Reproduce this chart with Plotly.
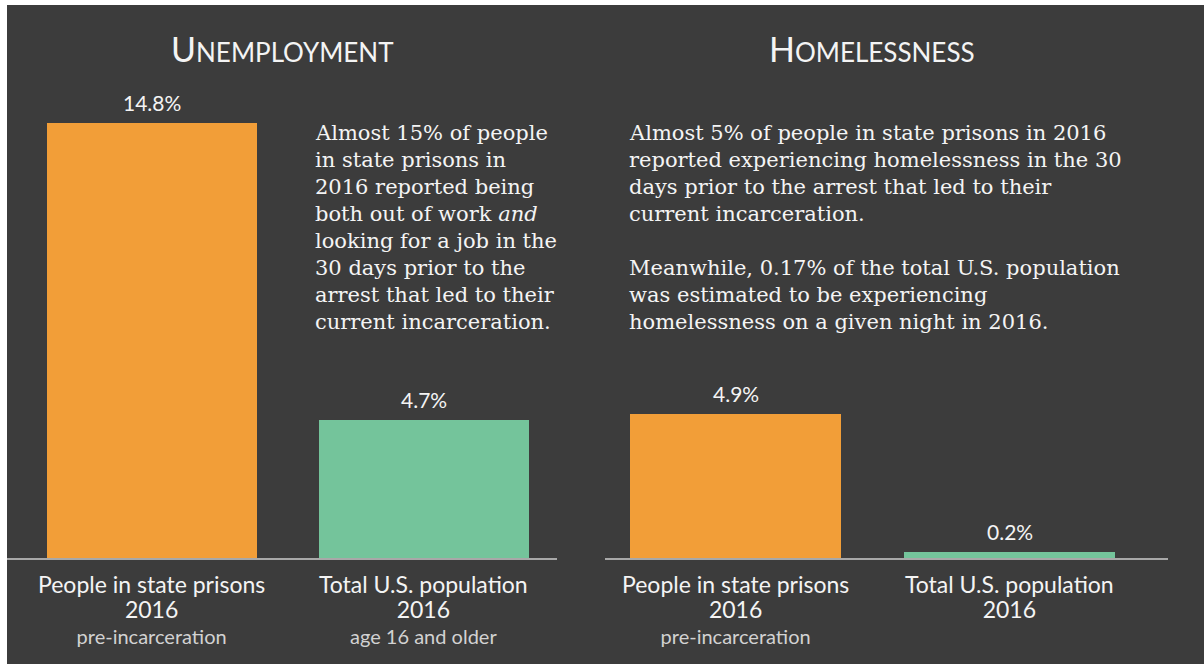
import plotly.graph_objects as go

W, H = 1204, 664

# ---- data -------------------------------------------------------------
panel_titles = ["Unemployment", "Homelessness"]
unemployment_pct = [14.8, 4.7]
homelessness_pct = [4.9, 0.2]
group_names = ["People in state prisons", "Total U.S. population"]
group_years = ["2016", "2016"]
unemployment_notes = ["pre-incarceration", "age 16 and older"]
homelessness_notes = ["pre-incarceration", ""]

unemployment_text = [
    "Almost 15% of people",
    "in state prisons in",
    "2016 reported being",
    "both out of work <i>and</i>",
    "looking for a job in the",
    "30 days prior to the",
    "arrest that led to their",
    "current incarceration.",
]
homelessness_text = [
    "Almost 5% of people in state prisons in 2016",
    "reported experiencing homelessness in the 30",
    "days prior to the arrest that led to their",
    "current incarceration.",
    "",
    "Meanwhile, 0.17% of the total U.S. population",
    "was estimated to be experiencing",
    "homelessness on a given night in 2016.",
]

# ---- styling ----------------------------------------------------------
BG = "#3c3c3c"
BAR_COLORS = ["#f29e38", "#74c49b"]
AXIS_LINE = "#a8a8a8"
TEXT = "#f4f4f4"
NOTE = "#d2d2d2"
SANS = "Lato, 'Open Sans', sans-serif"
SERIF = "'DejaVu Serif', 'Liberation Serif', serif"


def fx(px):
    return px / W


def fy(px):
    return 1 - px / H


def small_caps(word, small=26):
    return word[0].upper() + f"<span style='font-size:{small}px'>{word[1:].upper()}</span>"


def category_label(name, year, note):
    parts = [f"<span style='font-size:23px'>{name}</span>",
             f"<span style='font-size:23px'>{year}</span>"]
    if note:
        parts.append(f"<span style='font-size:20px;color:{NOTE}'>{note}</span>")
    return "<br>".join(parts)


BASE_Y = 558          # pixel row of the baseline
PX_PER_UNIT = 29.4    # vertical scale shared by both panels
Y_MAX = 15
y_domain = [fy(BASE_Y), fy(BASE_Y - Y_MAX * PX_PER_UNIT)]

fig = go.Figure()

panels = [
    dict(values=unemployment_pct, notes=unemployment_notes, text=unemployment_text,
         xa="x", ya="y", title_x=282, text_x=313),
    dict(values=homelessness_pct, notes=homelessness_notes, text=homelessness_text,
         xa="x2", ya="y2", title_x=872, text_x=627),
]

annotations = []
for p, title in zip(panels, panel_titles):
    fig.add_trace(go.Bar(
        x=list(range(len(p["values"]))), y=p["values"],
        marker=dict(color=BAR_COLORS, line=dict(width=0)),
        width=0.77, xaxis=p["xa"], yaxis=p["ya"],
        hoverinfo="skip", showlegend=False,
    ))
    # panel heading
    annotations.append(dict(
        xref="paper", yref="paper", x=fx(p["title_x"]), y=fy(48),
        text=small_caps(title), showarrow=False, xanchor="center", yanchor="middle",
        font=dict(family=SANS, size=34, color=TEXT),
    ))
    # value labels above bars
    for i, v in enumerate(p["values"]):
        annotations.append(dict(
            xref=p["xa"], yref=p["ya"], x=i, y=v, text=f"{v:.1f}%",
            showarrow=False, xanchor="center", yanchor="bottom", yshift=6,
            font=dict(family=SANS, size=21, color=TEXT),
        ))
    # category labels under the baseline
    for i in range(len(group_names)):
        annotations.append(dict(
            xref=p["xa"], yref="paper", x=i, y=fy(568), text=category_label(
                group_names[i], group_years[i], p["notes"][i]),
            showarrow=False, xanchor="center", yanchor="top",
            font=dict(family=SANS, size=19.5, color=TEXT),
        ))
    # explanatory paragraph
    for k, line in enumerate(p["text"]):
        if not line:
            continue
        annotations.append(dict(
            xref="paper", yref="paper", x=fx(p["text_x"]), y=fy(133 + 27 * k),
            text=line, showarrow=False, xanchor="left", yanchor="middle",
            font=dict(family=SERIF, size=21, color=TEXT),
        ))

axis_common = dict(showline=True, linecolor=AXIS_LINE, linewidth=2, showgrid=False,
                   zeroline=False, showticklabels=False, ticks="", fixedrange=True)
yaxis_common = dict(range=[0, Y_MAX], domain=y_domain, visible=False, fixedrange=True)

fig.update_layout(
    width=W, height=H,
    margin=dict(l=0, r=0, t=0, b=0),
    paper_bgcolor="white",
    plot_bgcolor="rgba(0,0,0,0)",
    xaxis=dict(domain=[fx(7), fx(557)], range=[-0.533, 1.489], anchor="y", **axis_common),
    xaxis2=dict(domain=[fx(605), fx(1168)], range=[-0.478, 1.577], anchor="y2", **axis_common),
    yaxis=dict(anchor="x", **yaxis_common),
    yaxis2=dict(anchor="x2", **yaxis_common),
    shapes=[dict(type="rect", xref="paper", yref="paper", x0=fx(7), x1=1, y0=0, y1=fy(5),
                 fillcolor=BG, line=dict(width=0), layer="below")],
    annotations=annotations,
    bargap=0,
)

fig.write_html("out.html")
